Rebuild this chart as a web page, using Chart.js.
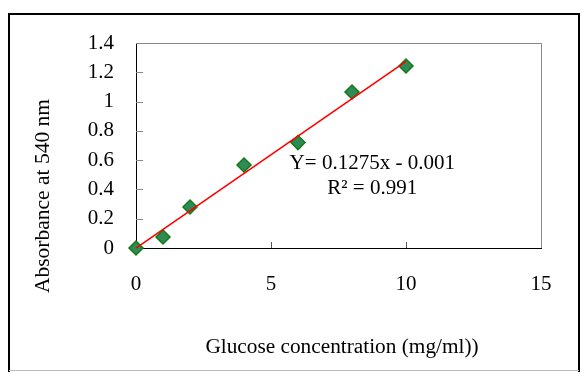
<!DOCTYPE html>
<html>
<head>
<meta charset="utf-8">
<script src="https://cdn.jsdelivr.net/npm/chart.js@4/dist/chart.umd.min.js"></script>
<style>
html,body{margin:0;padding:0;background:#fff;}
#wrap{width:582px;height:372px;position:relative;}
</style>
</head>
<body>
<div id="wrap"><canvas id="c" width="582" height="372"></canvas></div>
<script>
// ---- data ----
const concentration = [0, 1, 2, 4, 6, 8, 10];
const absorbance = [0, 0.075, 0.28, 0.567, 0.72, 1.065, 1.243];
const trendX = [0, 10];
const trendY = [-0.001, 1.274];
const xTickLabels = ['0', '5', '10', '15'];
const yTickLabels = ['0', '0.2', '0.4', '0.6', '0.8', '1', '1.2', '1.4'];
const xTitle = 'Glucose concentration (mg/ml))';
const yTitle = 'Absorbance at 540 nm';
const equationLines = ['Y= 0.1275x - 0.001', 'R\u00B2 = 0.991'];

const FONT = '"Liberation Serif", "Times New Roman", serif';

const decor = {
  id: 'decor',
  beforeDraw(chart) {
    const ctx = chart.ctx;
    ctx.save();
    ctx.fillStyle = '#fff';
    ctx.fillRect(0, 0, chart.width, chart.height);
    // outer frame
    ctx.strokeStyle = '#000';
    ctx.lineWidth = 2;
    ctx.beginPath();
    ctx.moveTo(9, 372);
    ctx.lineTo(9, 14);
    ctx.lineTo(579, 14);
    ctx.lineTo(579, 372);
    ctx.stroke();
    ctx.strokeStyle = '#bbb';
    ctx.lineWidth = 1;
    ctx.beginPath();
    ctx.moveTo(9, 370.5);
    ctx.lineTo(579, 370.5);
    ctx.stroke();
    ctx.restore();
  },
  beforeDatasetsDraw(chart) {
    const ctx = chart.ctx;
    const a = chart.chartArea;
    const xs = chart.scales.x, ys = chart.scales.y;
    ctx.save();
    // top and right frame of plot area
    ctx.strokeStyle = '#888';
    ctx.lineWidth = 1;
    ctx.beginPath();
    ctx.moveTo(Math.round(a.left), Math.round(a.top) + 0.5);
    ctx.lineTo(Math.round(a.right) + 0.5, Math.round(a.top) + 0.5);
    ctx.lineTo(Math.round(a.right) + 0.5, Math.round(a.bottom));
    ctx.stroke();
    // inside ticks
    ctx.strokeStyle = '#888';
    ys.ticks.forEach(t => {
      const y = Math.round(ys.getPixelForValue(t.value)) + 0.5;
      if (t.value === 0) return;
      ctx.beginPath();
      ctx.moveTo(a.left, y);
      ctx.lineTo(a.left + 7, y);
      ctx.stroke();
    });
    ctx.strokeStyle = '#555';
    xs.ticks.forEach(t => {
      const x = Math.round(xs.getPixelForValue(t.value)) + 0.5;
      if (t.value === 0 || t.value === 15) return;
      ctx.beginPath();
      ctx.moveTo(x, a.bottom);
      ctx.lineTo(x, a.bottom - 6);
      ctx.stroke();
    });
    // axis titles
    ctx.fillStyle = '#000';
    ctx.textAlign = 'center';
    ctx.textBaseline = 'middle';
    ctx.font = '21.3px ' + FONT;
    ctx.fillText(xTitle, 342, 347);
    ctx.save();
    ctx.font = '21.5px ' + FONT;
    ctx.translate(43, 196);
    ctx.rotate(-Math.PI / 2);
    ctx.fillText(yTitle, 0, 0);
    ctx.restore();
    // equation text
    ctx.font = '21px ' + FONT;
    const ex = xs.getPixelForValue(8.75);
    ctx.fillText(equationLines[0], ex, ys.getPixelForValue(0.58));
    ctx.fillText(equationLines[1], ex, ys.getPixelForValue(0.405));
    ctx.restore();
  }
};

new Chart(document.getElementById('c'), {
  type: 'scatter',
  data: {
    datasets: [
      {
        type: 'line',
        data: trendX.map((x, i) => ({x, y: trendY[i]})),
        borderColor: '#ff0000',
        borderWidth: 1.6,
        pointRadius: 0,
        fill: false,
        clip: false,
        order: 0
      },
      {
        data: concentration.map((x, i) => ({x, y: absorbance[i]})),
        pointStyle: 'rectRot',
        pointRadius: 7,
        pointHoverRadius: 7,
        backgroundColor: '#2e8b57',
        borderColor: '#157a15',
        borderWidth: 1.5,
        clip: false,
        order: 1
      }
    ]
  },
  options: {
    responsive: false,
    animation: false,
    events: [],
    layout: { padding: { left: 0, top: 43, right: 41, bottom: 0 } },
    plugins: { legend: { display: false }, tooltip: { enabled: false } },
    scales: {
      x: {
        type: 'linear',
        min: 0, max: 15,
        afterFit(s) { s.height = 124; },
        grid: { display: false, drawTicks: false },
        border: { display: true, color: '#000', width: 1 },
        afterBuildTicks(s) { s.ticks = xTickLabels.map(v => ({value: +v})); },
        ticks: {
          padding: 24,
          color: '#000',
          font: { family: FONT, size: 21 },
          callback: (v, i) => xTickLabels[i]
        }
      },
      y: {
        type: 'linear',
        min: 0, max: 1.4,
        afterFit(s) { s.width = 136; },
        grid: { display: false, drawTicks: false },
        border: { display: true, color: '#000', width: 1 },
        afterBuildTicks(s) { s.ticks = yTickLabels.map(v => ({value: +v})); },
        ticks: {
          padding: 22,
          color: '#000',
          font: { family: FONT, size: 21 },
          callback: (v, i) => yTickLabels[i]
        }
      }
    }
  },
  plugins: [decor]
});
</script>
</body>
</html>
